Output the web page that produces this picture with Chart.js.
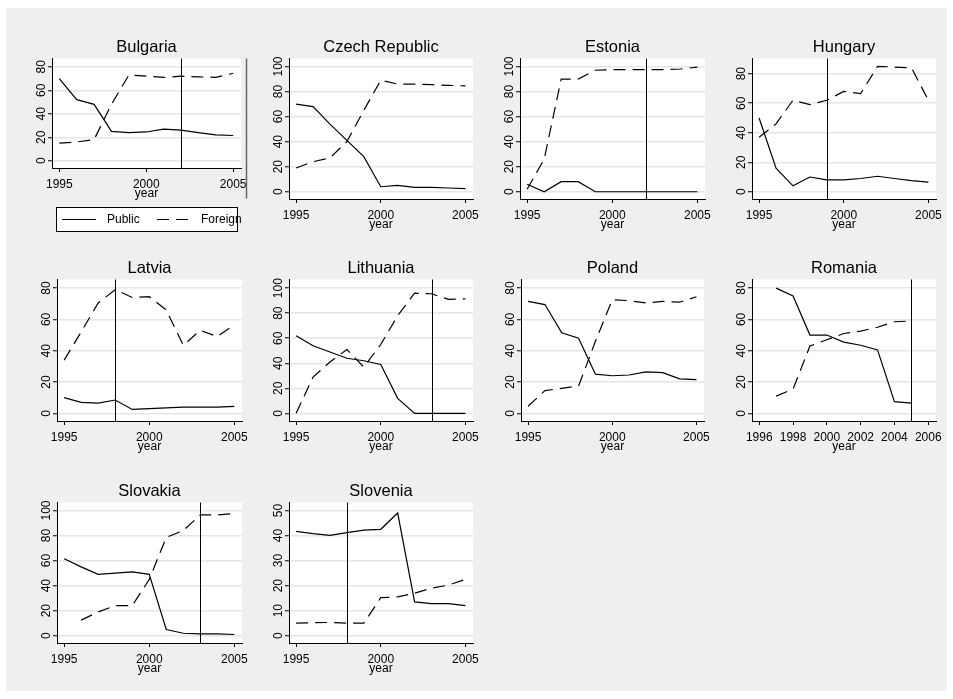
<!DOCTYPE html>
<html>
<head>
<meta charset="utf-8">
<script src="https://cdn.jsdelivr.net/npm/chart.js@4/dist/chart.umd.min.js"></script>
<style>
  html, body { margin: 0; padding: 0; background: #fff; }
  #page { position: relative; width: 953px; height: 699px; overflow: hidden; background: #fff; }
  #frame { position: absolute; left: 6px; top: 8px; width: 941px; height: 683px; background: #efefef; }
  #page canvas { position: absolute; }
</style>
</head>
<body>
<div id="page"><div id="frame"></div></div>
<script>
// ---- data: share of banking assets (%) by ownership, 1995-2005 ----
const years = [1995, 1996, 1997, 1998, 1999, 2000, 2001, 2002, 2003, 2004, 2005];
const seriesNames = ['Public', 'Foreign'];
const countries = ['Bulgaria', 'Czech Republic', 'Estonia', 'Hungary', 'Latvia',
                   'Lithuania', 'Poland', 'Romania', 'Slovakia', 'Slovenia'];
// year of the marked reform (null = none marked)
const reformYears = [2002, null, 2002, 1999, 1998, 2003, null, 2005, 2003, 1998];

const bulgariaPublic   = [70, 52, 48, 25, 24, 24.5, 27, 26, 24, 22, 21.5];
const bulgariaForeign  = [15, 16, 18, 48, 73, 72, 71, 72, 71.5, 71, 74.5];
const czechPublic      = [70, 68, 54, 41, 28, 4, 5, 3.5, 3.5, 3, 2.5];
const czechForeign     = [19, 24, 27, 40, 65, 89, 86, 86, 85.5, 85, 84.5];
const estoniaPublic    = [6, 0, 8, 8, 0, 0, 0, 0, 0, 0, 0];
const estoniaForeign   = [2, 26, 90, 90, 97, 97.5, 97.5, 97.5, 97.5, 98, 99.5];
const hungaryPublic    = [50, 16, 4, 10, 8, 8, 9, 10.5, 9, 7.5, 6.5];
const hungaryForeign   = [37, 46, 62, 59, 62, 68, 66.5, 85, 84.5, 84, 62];
const latviaPublic     = [10, 7, 6.5, 8.5, 2.5, 3, 3.5, 4, 4, 4, 4.5];
const latviaForeign    = [34, 52, 70.5, 79, 74, 74.5, 66, 43.5, 53, 49, 56.5];
const lithuaniaPublic  = [62, 54, 49, 44, 42, 39, 12, 0, 0, 0, 0];
const lithuaniaForeign = [0, 29, 41, 51, 37, 55, 78, 96, 95.5, 91, 91.5];
const polandPublic     = [71.5, 69.5, 51.5, 48, 25, 24, 24.5, 26.5, 26, 22, 21.5];
const polandForeign    = [4.5, 14.5, 16, 17.5, 46, 72.5, 72, 70.5, 71.5, 71, 74.5];
const romaniaPublic    = [null, null, 80, 75, 50, 50, 45.5, 43.5, 40.5, 7.5, 6.5];
const romaniaForeign   = [null, null, 11, 15.5, 43, 47, 51, 52.5, 55, 58.5, 59];
const slovakiaPublic   = [61.5, 55, 49, 50, 51, 49, 5, 2, 1.5, 1.5, 1];
const slovakiaForeign  = [null, 12.5, 19, 24, 24, 45, 78.5, 84, 96.5, 96.5, 97.5];
const sloveniaPublic   = [41.7, 40.8, 40.1, 41.2, 42.2, 42.5, 49, 13.5, 12.8, 12.8, 12];
const sloveniaForeign  = [5, 5.2, 5.3, 5, 5, 15.2, 15.5, 17, 19, 20.2, 22.5];

// ---- tick labels ----
const xTicks = [1995, 2000, 2005];
const romaniaXTicks = [1996, 1998, 2000, 2002, 2004, 2006];
const yTicks80 = [0, 20, 40, 60, 80];
const yTicks100 = [0, 20, 40, 60, 80, 100];
const sloveniaYTicks = [0, 10, 20, 30, 40, 50];

const publicSeries = [bulgariaPublic, czechPublic, estoniaPublic, hungaryPublic, latviaPublic,
                      lithuaniaPublic, polandPublic, romaniaPublic, slovakiaPublic, sloveniaPublic];
const foreignSeries = [bulgariaForeign, czechForeign, estoniaForeign, hungaryForeign, latviaForeign,
                       lithuaniaForeign, polandForeign, romaniaForeign, slovakiaForeign, sloveniaForeign];
const xTickSets = [xTicks, xTicks, xTicks, xTicks, xTicks, xTicks, xTicks, romaniaXTicks, xTicks, xTicks];
const yTickSets = [yTicks80, yTicks100, yTicks100, yTicks80, yTicks80,
                   yTicks100, yTicks80, yTicks80, yTicks100, sloveniaYTicks];

// ---- layout: plot area of each panel [left, top, right, bottom] and axis ranges ----
const plotBoxes = [
  [52, 58, 241, 168], [289, 58, 473, 199], [520, 58, 705, 199], [752, 58, 936, 199],
  [57, 279, 242, 421], [289, 279, 473, 421], [521, 279, 704, 421], [752, 279, 936, 421],
  [57, 502, 242, 643], [289, 502, 473, 643]
];
const xRanges = [
  [1994.58, 2005.45], [1994.58, 2005.45], [1994.58, 2005.45], [1994.58, 2005.45],
  [1994.58, 2005.45], [1994.58, 2005.45], [1994.58, 2005.45], [1995.57, 2006.46],
  [1994.58, 2005.45], [1994.58, 2005.45]
];
const yRanges = [
  [-6.2, 87.1], [-5.8, 106.4], [-5.8, 106.4], [-4.9, 90.3], [-4.9, 85.5],
  [-6.1, 106.9], [-4.9, 85.5], [-4.9, 85.5], [-5.8, 106.4], [-2.9, 53.2]
];

const FONT = "'Liberation Sans', Arial, Helvetica, sans-serif";
const TICK_SIZE = 12;
const TICK_LEN = 4;
const X_AXIS_H = 33;
const Y_AXIS_W = 40;
const PAD_RIGHT = 16;
const Y_LABEL_OFFSET = 10;   // distance from y axis line to centre of rotated labels
const DASH = [12, 7];
const LINE_W = 1.2;

Chart.defaults.font.family = FONT;
Chart.defaults.color = '#000';

const measureCtx = document.createElement('canvas').getContext('2d');
measureCtx.font = TICK_SIZE + 'px ' + FONT;
const widest = ticks => Math.max(...ticks.map(t => measureCtx.measureText(String(t)).width));

// white plot region
const plotBackground = {
  id: 'plotBackground',
  beforeDraw(chart) {
    const {ctx, chartArea: a} = chart;
    ctx.save();
    ctx.fillStyle = '#fff';
    ctx.fillRect(a.left, a.top, a.right - a.left, a.bottom - a.top);
    ctx.restore();
  }
};

// vertical marker at the reform year
const reformLine = {
  id: 'reformLine',
  afterDatasetsDraw(chart, args, opts) {
    if (opts.year == null) return;
    const {ctx, chartArea: a, scales: {x}} = chart;
    const px = Math.round(x.getPixelForValue(opts.year)) + 0.5;
    ctx.save();
    ctx.strokeStyle = '#000';
    ctx.lineWidth = 1;
    ctx.beginPath();
    ctx.moveTo(px, a.top);
    ctx.lineTo(px, a.bottom);
    ctx.stroke();
    ctx.restore();
  }
};

// boxed key below the first panel, plus the frame edge to its right
const keyBox = {
  id: 'keyBox',
  afterDraw(chart) {
    const {ctx, chartArea: a} = chart;
    ctx.save();
    // frame edge
    ctx.strokeStyle = '#666';
    ctx.lineWidth = 1.5;
    ctx.beginPath();
    ctx.moveTo(a.right + 5.5, a.top);
    ctx.lineTo(a.right + 5.5, a.top + 140);
    ctx.stroke();
    // box
    const x0 = a.left + 4.5, y0 = a.bottom + 39.5, w = 181, h = 24;
    ctx.fillStyle = '#fff';
    ctx.fillRect(x0, y0, w, h);
    ctx.strokeStyle = '#000';
    ctx.lineWidth = 1;
    ctx.strokeRect(x0, y0, w, h);
    const yMid = a.bottom + 51.5;
    const lineX = [a.left + 10, a.left + 105];
    const textX = [a.left + 55, a.left + 149];
    chart.data.datasets.forEach((ds, k) => {
      ctx.setLineDash(ds.borderDash || []);
      ctx.lineWidth = LINE_W;
      ctx.strokeStyle = ds.borderColor;
      ctx.beginPath();
      ctx.moveTo(lineX[k], yMid);
      ctx.lineTo(lineX[k] + 34, yMid);
      ctx.stroke();
      ctx.setLineDash([]);
      ctx.fillStyle = '#000';
      ctx.font = TICK_SIZE + 'px ' + FONT;
      ctx.textBaseline = 'middle';
      ctx.textAlign = 'left';
      ctx.fillText(ds.label, textX[k], yMid);
    });
    ctx.restore();
  }
};

const page = document.getElementById('page');

countries.forEach((name, i) => {
  const [L, T, R, B] = plotBoxes[i];
  const withKey = i === 0;
  const padBottom = withKey ? 37 : 2;
  const w = R - L + Y_AXIS_W + PAD_RIGHT;
  const h = B - T + 30 + X_AXIS_H + padBottom;
  const canvas = document.createElement('canvas');
  canvas.width = w;
  canvas.height = h;
  canvas.style.left = (L - Y_AXIS_W) + 'px';
  canvas.style.top = (T - 30) + 'px';
  canvas.style.width = w + 'px';
  canvas.style.height = h + 'px';
  page.appendChild(canvas);

  const toPoints = vals => years.map((yr, k) => ({x: yr, y: vals[k]}));
  const xt = xTickSets[i];
  const yt = yTickSets[i];

  new Chart(canvas, {
    type: 'line',
    data: {
      datasets: [
        { label: seriesNames[0], data: toPoints(publicSeries[i]), borderColor: '#000',
          borderWidth: LINE_W, pointRadius: 0, tension: 0, fill: false },
        { label: seriesNames[1], data: toPoints(foreignSeries[i]), borderColor: '#000',
          borderWidth: LINE_W, borderDash: DASH, pointRadius: 0, tension: 0, fill: false }
      ]
    },
    options: {
      responsive: false,
      animation: false,
      devicePixelRatio: 1,
      events: [],
      layout: { padding: { left: 0, top: 11, right: PAD_RIGHT, bottom: padBottom } },
      plugins: {
        legend: { display: false },
        tooltip: { enabled: false },
        title: {
          display: true, text: name, fullSize: false, color: '#000',
          font: { size: 16.5, weight: 'normal', lineHeight: 1 },
          padding: { top: 0, bottom: 3 }
        },
        reformLine: { year: reformYears[i] }
      },
      scales: {
        x: {
          type: 'linear',
          min: xRanges[i][0], max: xRanges[i][1],
          bounds: 'data',
          afterBuildTicks: s => { s.ticks = xt.map(v => ({value: v})); },
          afterFit: s => { s.height = X_AXIS_H; },
          ticks: { autoSkip: false, maxRotation: 0, minRotation: 0, padding: 5,
                   color: '#000', font: { size: TICK_SIZE }, callback: v => String(v) },
          grid: { drawOnChartArea: false, drawTicks: true, tickLength: TICK_LEN,
                  tickColor: '#000', tickWidth: 1, color: '#000' },
          border: { display: true, color: '#000', width: 1 },
          title: { display: true, text: 'year', color: '#000', font: { size: TICK_SIZE, lineHeight: 1.2 },
                   padding: 0 }
        },
        y: {
          type: 'linear',
          min: yRanges[i][0], max: yRanges[i][1],
          bounds: 'data',
          afterBuildTicks: s => { s.ticks = yt.map(v => ({value: v})); },
          afterFit: s => { s.width = Y_AXIS_W; },
          ticks: { autoSkip: false, minRotation: 90, maxRotation: 90, crossAlign: 'center',
                   padding: Y_LABEL_OFFSET - TICK_LEN - widest(yt) / 2,
                   color: '#000', font: { size: TICK_SIZE }, callback: v => String(v) },
          grid: { drawOnChartArea: true, drawTicks: true, tickLength: TICK_LEN,
                  color: '#e6e6e6', lineWidth: 1.5, tickColor: '#000', tickWidth: 1 },
          border: { display: true, color: '#000', width: 1 }
        }
      }
    },
    plugins: withKey ? [plotBackground, reformLine, keyBox] : [plotBackground, reformLine]
  });
});
</script>
</body>
</html>
